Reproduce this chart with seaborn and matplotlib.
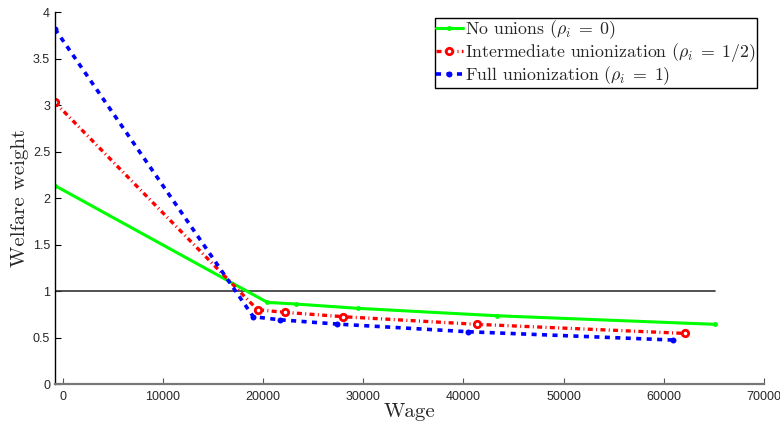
import matplotlib
matplotlib.use("Agg")
import matplotlib.pyplot as plt
import seaborn as sns
import numpy as np

sns.set_theme(style="white")
plt.rcParams['font.family'] = ['Liberation Sans', 'DejaVu Sans']
plt.rcParams['mathtext.fontset'] = 'cm'

# Data
wage_none = [-750, 20440, 23300, 29460, 43360, 65060]
weight_none = [2.135, 0.879, 0.861, 0.815, 0.735, 0.643]

wage_mid = [-750, 19460, 22160, 28010, 41320, 62160]
weight_mid = [3.03, 0.80, 0.772, 0.725, 0.643, 0.545]

wage_full = [-750, 19030, 21660, 27350, 40470, 60880]
weight_full = [3.82, 0.725, 0.692, 0.646, 0.563, 0.474]

labels = [r"No unions ($\rho_i\;=\;0$)",
          r"Intermediate unionization ($\rho_i\;=\;1/2$)",
          r"Full unionization ($\rho_i\;=\;1$)"]

fig = plt.figure(figsize=(7.8, 4.23), dpi=100)
ax = fig.add_axes([0.0705, 0.092, 0.909, 0.879])

ax.plot([wage_none[0], wage_none[-1]], [1, 1], color='#333333', lw=1.2, zorder=1)

sns.lineplot(x=wage_none, y=weight_none, ax=ax, sort=False, color=(0, 1, 0),
             lw=2.2, marker='o', markersize=3.5, markeredgewidth=0, label=labels[0])
sns.lineplot(x=wage_mid, y=weight_mid, ax=ax, sort=False, color=(1, 0, 0),
             lw=2.4, linestyle=(0, (1.5, 1.0, 0.3, 1.0)), marker='o', markersize=4.6,
             markeredgewidth=2.0, markerfacecolor='white', markeredgecolor=(1, 0, 0),
             label=labels[1])
sns.lineplot(x=wage_full, y=weight_full, ax=ax, sort=False, color=(0, 0, 1),
             lw=2.6, linestyle=(0, (1.4, 1.5)), marker='o', markersize=4.3,
             markeredgewidth=0, label=labels[2])

ax.set_xlim(-750, 70000)
ax.set_ylim(0, 4)
ax.set_xticks(np.arange(0, 70001, 10000))
ax.set_yticks(np.arange(0, 4.01, 0.5))
ax.set_yticklabels(['0', '0.5', '1', '1.5', '2', '2.5', '3', '3.5', '4'])
ax.tick_params(direction='in', length=4, width=0.8, labelsize=9, color='black',
               bottom=True, left=True, top=False, right=False)
ax.tick_params(axis='x', pad=5, color='#555555')
for s in ['top', 'right']:
    ax.spines[s].set_visible(False)
ax.spines['left'].set_color('black')
ax.spines['left'].set_linewidth(1.0)
ax.spines['bottom'].set_color('#777777')
ax.spines['bottom'].set_linewidth(1.6)

ax.set_xlabel('Wage', family='cmr10', fontsize=15, labelpad=0)
ax.set_ylabel('Welfare weight', family='cmr10', fontsize=15, labelpad=3)

leg = ax.legend(loc='upper right', bbox_to_anchor=(0.99, 0.985), frameon=True,
                fancybox=False, edgecolor='black', framealpha=1,
                prop={'family': 'cmr10', 'size': 12.8}, handlelength=1.5,
                handletextpad=0.15, borderpad=0.05, labelspacing=0.0, borderaxespad=0)
leg.get_frame().set_linewidth(1.0)

fig.savefig('out.png', dpi=100)
